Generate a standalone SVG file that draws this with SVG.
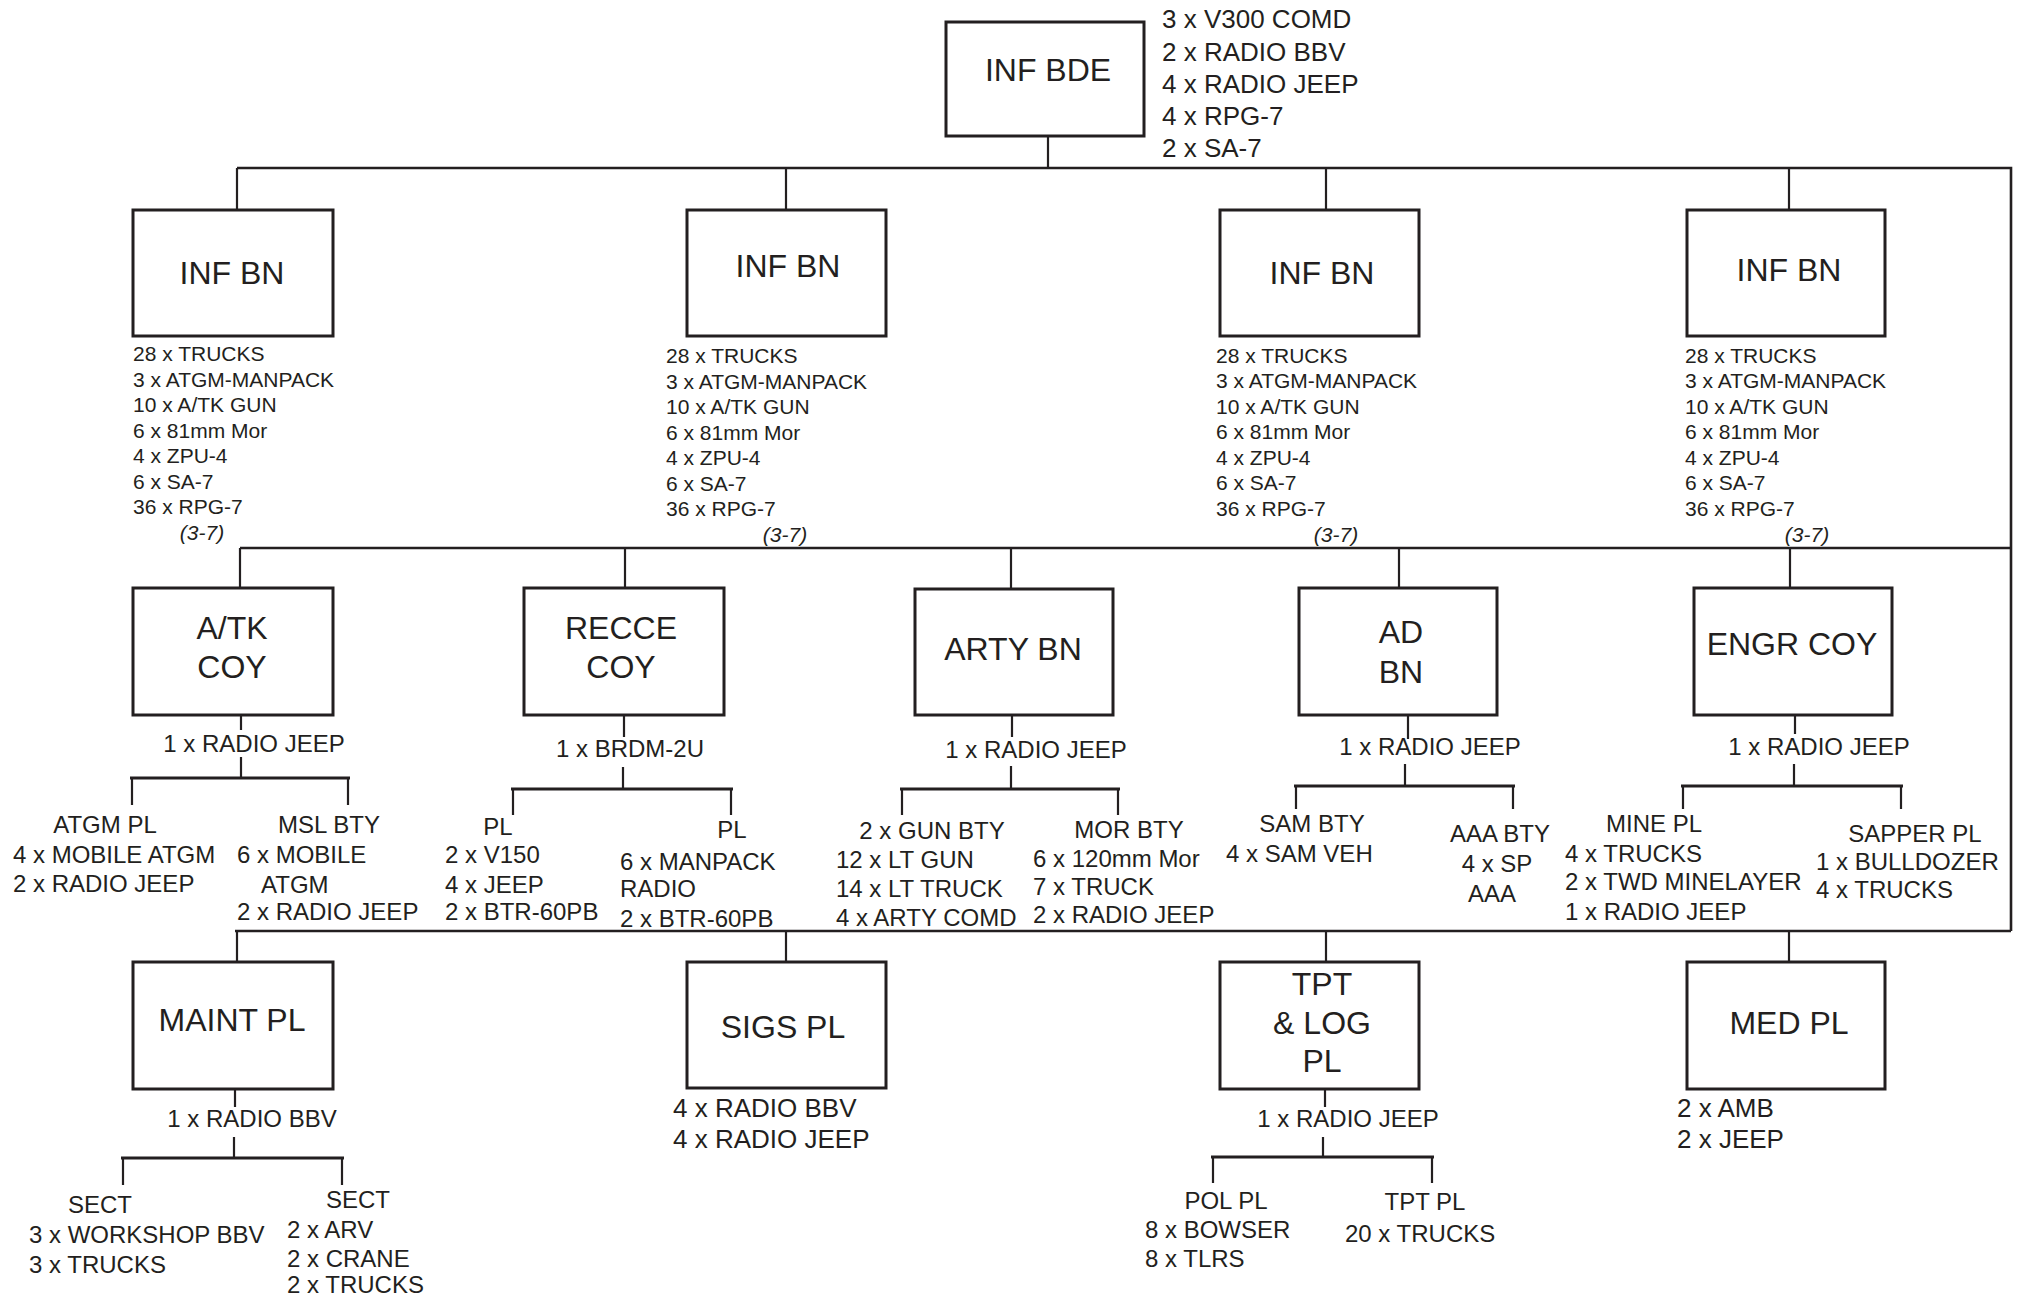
<svg xmlns="http://www.w3.org/2000/svg" width="2024" height="1300" viewBox="0 0 2024 1300">
<style>
.bg{fill:#fff}
.box{fill:#fff;stroke:#231f20;stroke-width:3}
.ln{fill:none;stroke:#231f20;stroke-width:2.2}
.bus{fill:none;stroke:#231f20;stroke-width:2.6}
.sb{fill:none;stroke:#231f20;stroke-width:3}
text{font-family:"Liberation Sans",Arial,Helvetica,sans-serif;fill:#231f20}
.lbl{font-size:32px;text-anchor:middle}
.n{font-size:21px}
.it{font-size:21px;font-style:italic;text-anchor:middle}
.bn{font-size:26px}
.s{font-size:24px}
.c{text-anchor:middle}
</style>
<rect class="bg" x="0" y="0" width="2024" height="1300"/>
<g id="connectors">
<path class="bus" d="M237,168 H2011 V931 M240,548 H2011 M235,931 H2011"/>
<path class="ln" d="M1048,136 V168 M237,168 V210 M786,168 V210 M1326,168 V210 M1789,168 V210"/>
<path class="ln" d="M240,548 V588 M625,548 V588 M1011,548 V589 M1399,548 V588 M1790,548 V588"/>
<path class="ln" d="M237,931 V962 M786,931 V962 M1326,931 V962 M1789,931 V962"/>
<path class="ln" d="M241,715 V730 M241,757 V778 M132,778 V805 M348,778 V805"/>
<path class="sb" d="M130,778 H350"/>
<path class="ln" d="M624,715 V737 M623,767 V789 M513,789 V815 M731,789 V815"/>
<path class="sb" d="M511,789 H733"/>
<path class="ln" d="M1012,715 V737 M1011,766 V789 M902,789 V815 M1118,789 V815"/>
<path class="sb" d="M900,789 H1120"/>
<path class="ln" d="M1408,715 V739 M1405,764 V786 M1296,786 V809 M1513,786 V809"/>
<path class="sb" d="M1294,786 H1515"/>
<path class="ln" d="M1795,715 V734 M1794,764 V786 M1683,786 V809 M1901,786 V809"/>
<path class="sb" d="M1681,786 H1903"/>
<path class="ln" d="M235,1089 V1107 M234,1137 V1158 M123,1158 V1185 M342,1158 V1185"/>
<path class="sb" d="M121,1158 H344"/>
<path class="ln" d="M1325,1089 V1107 M1323,1137 V1157 M1213,1157 V1183 M1432,1157 V1183"/>
<path class="sb" d="M1211,1157 H1434"/>
</g>
<g id="inf-bde">
<rect class="box" x="946" y="22" width="198" height="114"/>
<text class="lbl" x="1048" y="81">INF BDE</text>
<text class="bn" x="1162" y="28">3 x V300 COMD</text>
<text class="bn" x="1162" y="61">2 x RADIO BBV</text>
<text class="bn" x="1162" y="93">4 x RADIO JEEP</text>
<text class="bn" x="1162" y="125">4 x RPG-7</text>
<text class="bn" x="1162" y="157">2 x SA-7</text>
</g>
<g id="inf-bn-1">
<rect class="box" x="133" y="210" width="200" height="126"/>
<text class="lbl" x="232" y="284">INF BN</text>
<text class="n" x="133" y="361">28 x TRUCKS</text>
<text class="n" x="133" y="386.5">3 x ATGM-MANPACK</text>
<text class="n" x="133" y="412">10 x A/TK GUN</text>
<text class="n" x="133" y="437.5">6 x 81mm Mor</text>
<text class="n" x="133" y="463">4 x ZPU-4</text>
<text class="n" x="133" y="488.5">6 x SA-7</text>
<text class="n" x="133" y="514">36 x RPG-7</text>
<text class="it" x="202" y="540">(3-7)</text>
</g>
<g id="inf-bn-2">
<rect class="box" x="687" y="210" width="199" height="126"/>
<text class="lbl" x="788" y="277">INF BN</text>
<text class="n" x="666" y="363">28 x TRUCKS</text>
<text class="n" x="666" y="388.5">3 x ATGM-MANPACK</text>
<text class="n" x="666" y="414">10 x A/TK GUN</text>
<text class="n" x="666" y="439.5">6 x 81mm Mor</text>
<text class="n" x="666" y="465">4 x ZPU-4</text>
<text class="n" x="666" y="490.5">6 x SA-7</text>
<text class="n" x="666" y="516">36 x RPG-7</text>
<text class="it" x="785" y="542">(3-7)</text>
</g>
<g id="inf-bn-3">
<rect class="box" x="1220" y="210" width="199" height="126"/>
<text class="lbl" x="1322" y="284">INF BN</text>
<text class="n" x="1216" y="362.5">28 x TRUCKS</text>
<text class="n" x="1216" y="388">3 x ATGM-MANPACK</text>
<text class="n" x="1216" y="413.5">10 x A/TK GUN</text>
<text class="n" x="1216" y="439">6 x 81mm Mor</text>
<text class="n" x="1216" y="464.5">4 x ZPU-4</text>
<text class="n" x="1216" y="490">6 x SA-7</text>
<text class="n" x="1216" y="515.5">36 x RPG-7</text>
<text class="it" x="1336" y="542">(3-7)</text>
</g>
<g id="inf-bn-4">
<rect class="box" x="1687" y="210" width="198" height="126"/>
<text class="lbl" x="1789" y="281">INF BN</text>
<text class="n" x="1685" y="362.5">28 x TRUCKS</text>
<text class="n" x="1685" y="388">3 x ATGM-MANPACK</text>
<text class="n" x="1685" y="413.5">10 x A/TK GUN</text>
<text class="n" x="1685" y="439">6 x 81mm Mor</text>
<text class="n" x="1685" y="464.5">4 x ZPU-4</text>
<text class="n" x="1685" y="490">6 x SA-7</text>
<text class="n" x="1685" y="515.5">36 x RPG-7</text>
<text class="it" x="1807" y="542">(3-7)</text>
</g>
<g id="atk-coy">
<rect class="box" x="133" y="588" width="200" height="127"/>
<text class="lbl" x="232" y="639">A/TK</text>
<text class="lbl" x="232" y="678">COY</text>
<text class="s c" x="254" y="752">1 x RADIO JEEP</text>
<text class="s c" x="105" y="833">ATGM PL</text>
<text class="s" x="13" y="863">4 x MOBILE ATGM</text>
<text class="s" x="13" y="892">2 x RADIO JEEP</text>
<text class="s c" x="329" y="833">MSL BTY</text>
<text class="s" x="237" y="863">6 x MOBILE</text>
<text class="s" x="261" y="893">ATGM</text>
<text class="s" x="237" y="920">2 x RADIO JEEP</text>
</g>
<g id="recce-coy">
<rect class="box" x="524" y="588" width="200" height="127"/>
<text class="lbl" x="621" y="639">RECCE</text>
<text class="lbl" x="621" y="678">COY</text>
<text class="s c" x="630" y="757">1 x BRDM-2U</text>
<text class="s c" x="498" y="835">PL</text>
<text class="s" x="445" y="863">2 x V150</text>
<text class="s" x="445" y="893">4 x JEEP</text>
<text class="s" x="445" y="920">2 x BTR-60PB</text>
<text class="s c" x="732" y="838">PL</text>
<text class="s" x="620" y="870">6 x MANPACK</text>
<text class="s" x="620" y="897">RADIO</text>
<text class="s" x="620" y="927">2 x BTR-60PB</text>
</g>
<g id="arty-bn">
<rect class="box" x="915" y="589" width="198" height="126"/>
<text class="lbl" x="1013" y="660">ARTY BN</text>
<text class="s c" x="1036" y="758">1 x RADIO JEEP</text>
<text class="s c" x="932" y="839">2 x GUN BTY</text>
<text class="s" x="836" y="868">12 x LT GUN</text>
<text class="s" x="836" y="897">14 x LT TRUCK</text>
<text class="s" x="836" y="926">4 x ARTY COMD</text>
<text class="s c" x="1129" y="838">MOR BTY</text>
<text class="s" x="1033" y="867">6 x 120mm Mor</text>
<text class="s" x="1033" y="895">7 x TRUCK</text>
<text class="s" x="1033" y="923">2 x RADIO JEEP</text>
</g>
<g id="ad-bn">
<rect class="box" x="1299" y="588" width="198" height="127"/>
<text class="lbl" x="1401" y="643">AD</text>
<text class="lbl" x="1401" y="683">BN</text>
<text class="s c" x="1430" y="755">1 x RADIO JEEP</text>
<text class="s c" x="1312" y="832">SAM BTY</text>
<text class="s" x="1226" y="862">4 x SAM VEH</text>
<text class="s c" x="1500" y="842">AAA BTY</text>
<text class="s c" x="1497" y="872">4 x SP</text>
<text class="s c" x="1492" y="902">AAA</text>
</g>
<g id="engr-coy">
<rect class="box" x="1694" y="588" width="198" height="127"/>
<text class="lbl" x="1792" y="655">ENGR COY</text>
<text class="s c" x="1819" y="755">1 x RADIO JEEP</text>
<text class="s c" x="1654" y="832">MINE PL</text>
<text class="s" x="1565" y="862">4 x TRUCKS</text>
<text class="s" x="1565" y="890">2 x TWD MINELAYER</text>
<text class="s" x="1565" y="920">1 x RADIO JEEP</text>
<text class="s c" x="1915" y="842">SAPPER PL</text>
<text class="s" x="1816" y="870">1 x BULLDOZER</text>
<text class="s" x="1816" y="898">4 x TRUCKS</text>
</g>
<g id="maint-pl">
<rect class="box" x="133" y="962" width="200" height="127"/>
<text class="lbl" x="232" y="1031">MAINT PL</text>
<text class="s c" x="252" y="1127">1 x RADIO BBV</text>
<text class="s c" x="100" y="1213">SECT</text>
<text class="s" x="29" y="1243">3 x WORKSHOP BBV</text>
<text class="s" x="29" y="1273">3 x TRUCKS</text>
<text class="s c" x="358" y="1208">SECT</text>
<text class="s" x="287" y="1238">2 x ARV</text>
<text class="s" x="287" y="1267">2 x CRANE</text>
<text class="s" x="287" y="1293">2 x TRUCKS</text>
</g>
<g id="sigs-pl">
<rect class="box" x="687" y="962" width="199" height="126"/>
<text class="lbl" x="783" y="1038">SIGS PL</text>
<text class="bn" x="673" y="1117">4 x RADIO BBV</text>
<text class="bn" x="673" y="1148">4 x RADIO JEEP</text>
</g>
<g id="tpt-log-pl">
<rect class="box" x="1220" y="962" width="199" height="127"/>
<text class="lbl" x="1322" y="995">TPT</text>
<text class="lbl" x="1322" y="1034">&amp; LOG</text>
<text class="lbl" x="1322" y="1072">PL</text>
<text class="s c" x="1348" y="1127">1 x RADIO JEEP</text>
<text class="s c" x="1226" y="1209">POL PL</text>
<text class="s" x="1145" y="1238">8 x BOWSER</text>
<text class="s" x="1145" y="1267">8 x TLRS</text>
<text class="s c" x="1425" y="1210">TPT PL</text>
<text class="s" x="1345" y="1242">20 x TRUCKS</text>
</g>
<g id="med-pl">
<rect class="box" x="1687" y="962" width="198" height="127"/>
<text class="lbl" x="1789" y="1034">MED PL</text>
<text class="bn" x="1677" y="1117">2 x AMB</text>
<text class="bn" x="1677" y="1148">2 x JEEP</text>
</g>
</svg>
